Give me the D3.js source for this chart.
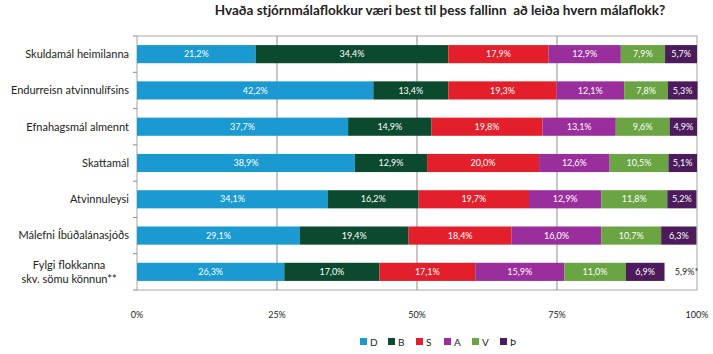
<!DOCTYPE html>
<html>
<head>
<meta charset="utf-8">
<script src="https://cdn.jsdelivr.net/npm/d3@7"></script>
<style>
  body { margin: 0; background: #fff; }
  svg { font-family: Lato, "Open Sans", sans-serif; }
</style>
</head>
<body>
<svg id="chart" width="713" height="354"></svg>
<script>
// Categories (top to bottom) and party series, percent
const CATEGORIES = [
  "Skuldamál heimilanna",
  "Endurreisn atvinnulífsins",
  "Efnahagsmál almennt",
  "Skattamál",
  "Atvinnuleysi",
  "Málefni Íbúðalánasjóðs",
  "Fylgi flokkanna|skv. sömu könnun**"
];
const PARTIES = ["D", "B", "S", "A", "V", "Þ"];
const COLORS  = ["#1a9ad0", "#0c4a2f", "#e21f2b", "#9a2e9c", "#6aa443", "#4b1b5b"];

const D = [21.2, 42.2, 37.7, 38.9, 34.1, 29.1, 26.3];
const B = [34.4, 13.4, 14.9, 12.9, 16.2, 19.4, 17.0];
const S = [17.9, 19.3, 19.8, 20.0, 19.7, 18.4, 17.1];
const A = [12.9, 12.1, 13.1, 12.6, 12.9, 16.0, 15.9];
const V = [7.9, 7.8, 9.6, 10.5, 11.8, 10.7, 11.0];
const P = [5.7, 5.3, 4.9, 5.1, 5.2, 6.3, 6.9];
const EXTRA_NOTE = "5,9%*";   // shown beside last bar
const X_TICKS = [0, 25, 50, 75, 100];

const SERIES = [D, B, S, A, V, P];

const svg = d3.select("#chart");
const M = { top: 36, right: 16, bottom: 64, left: 137 };
const W = 713 - M.left - M.right;
const H = 354 - M.top - M.bottom;

const x = d3.scaleLinear().domain([0, 100]).range([0, W]);
const y = d3.scaleBand().domain(CATEGORIES).range([0, H]).paddingInner(0.5).paddingOuter(0.25);

const rows = CATEGORIES.map((c, i) => {
  const r = { cat: c };
  PARTIES.forEach((p, j) => r[p] = SERIES[j][i]);
  return r;
});
const stacked = d3.stack().keys(PARTIES)(rows);

const g = svg.append("g").attr("transform", `translate(${M.left},${M.top})`);

// Title
svg.append("text")
  .attr("x", 440).attr("y", 15)
  .attr("text-anchor", "middle")
  .style("white-space", "pre")
  .attr("font-size", "13.5px").attr("font-weight", "bold").attr("fill", "#222")
  .text("Hvaða stjórnmálaflokkur væri best til þess fallinn  að leiða hvern málaflokk?");

// Plot border + gridlines
g.append("rect").attr("width", W).attr("height", H)
  .attr("fill", "none").attr("stroke", "#a6a6a6").attr("stroke-width", 1);
g.selectAll("line.grid").data(X_TICKS.slice(1, -1)).join("line")
  .attr("class", "grid")
  .attr("x1", d => x(d)).attr("x2", d => x(d))
  .attr("y1", 0).attr("y2", H)
  .attr("stroke", "#8c8c8c").attr("stroke-width", 1);

// Left axis ticks between categories
const step = y.step();
g.selectAll("line.ytick").data(d3.range(CATEGORIES.length + 1)).join("line")
  .attr("class", "ytick")
  .attr("x1", -4).attr("x2", 0)
  .attr("y1", i => i * step).attr("y2", i => i * step)
  .attr("stroke", "#8c8c8c");

// Bars
const layer = g.selectAll("g.layer").data(stacked).join("g")
  .attr("class", "layer")
  .attr("fill", (d, i) => COLORS[i]);

layer.selectAll("rect").data(d => d).join("rect")
  .attr("x", d => x(d[0]))
  .attr("y", d => y(d.data.cat))
  .attr("width", d => x(d[1]) - x(d[0]))
  .attr("height", y.bandwidth());

const fmt = v => v.toFixed(1).replace(".", ",") + "%";
layer.selectAll("text").data(d => d).join("text")
  .attr("x", d => (x(d[0]) + x(d[1])) / 2)
  .attr("y", d => y(d.data.cat) + y.bandwidth() / 2)
  .attr("dy", "0.35em")
  .attr("text-anchor", "middle")
  .attr("font-size", "9px").attr("fill", "#fff")
  .text(d => fmt(d[1] - d[0]));

// Note beside last bar
const lastCat = CATEGORIES[CATEGORIES.length - 1];
g.append("text")
  .attr("x", x(d3.sum(SERIES, s => s[s.length - 1])) + 22)
  .attr("y", y(lastCat) + y.bandwidth() / 2)
  .attr("dy", "0.35em")
  .attr("text-anchor", "middle")
  .attr("font-size", "9px").attr("fill", "#222")
  .text(EXTRA_NOTE);

// Category labels
const catLbl = g.selectAll("text.cat").data(CATEGORIES).join("text")
  .attr("class", "cat")
  .attr("font-size", "11px").attr("fill", "#222");
catLbl.each(function(c) {
  const parts = c.split("|");
  const cy = y(c) + y.bandwidth() / 2;
  const multi = parts.length > 1;
  const t = d3.select(this).attr("text-anchor", multi ? "middle" : "end");
  parts.forEach((p, k) => {
    t.append("tspan")
      .attr("x", multi ? -68 : -8)
      .attr("y", cy + (k - (parts.length - 1) / 2) * 14)
      .attr("dy", "0.35em")
      .text(p);
  });
});

// X axis labels
g.selectAll("text.xlbl").data(X_TICKS).join("text")
  .attr("class", "xlbl")
  .attr("x", d => x(d)).attr("y", H + 28)
  .attr("text-anchor", "middle")
  .attr("font-size", "9px").attr("fill", "#222")
  .text(d => d + "%");

// Legend
const lg = svg.append("g").attr("transform", "translate(360,342)");
const item = lg.selectAll("g").data(PARTIES).join("g")
  .attr("transform", (d, i) => `translate(${i * 28},0)`);
item.append("rect").attr("x", 0).attr("y", -4).attr("width", 7).attr("height", 7)
  .attr("fill", (d, i) => COLORS[i]);
item.append("text").attr("x", 10).attr("dy", "0.35em")
  .attr("font-size", "10px").attr("fill", "#222")
  .text(d => d);
</script>
</body>
</html>
